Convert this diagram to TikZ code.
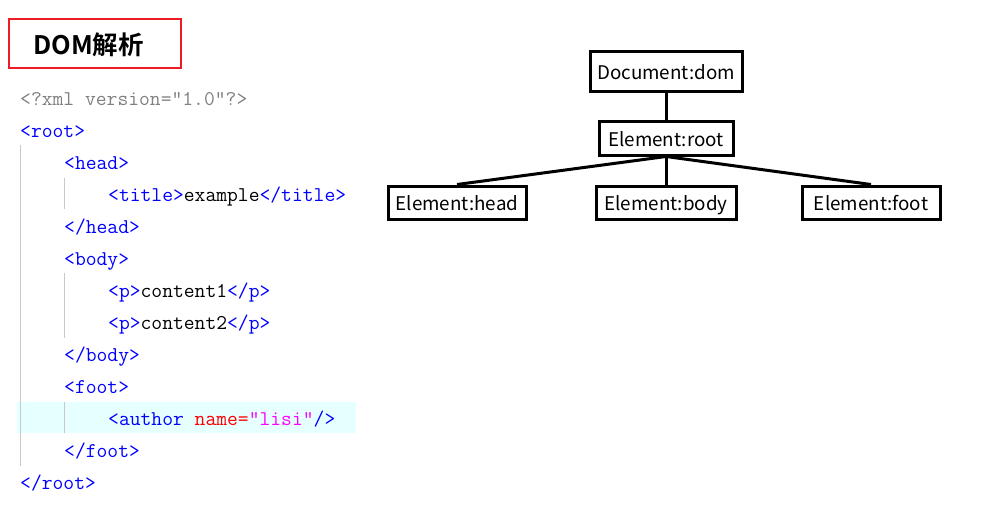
\documentclass[tikz,border=0pt]{standalone}
\usepackage{fontspec}
\usetikzlibrary{positioning}
\newfontfamily\cjkbold[BoldFont={* Bold}]{Noto Sans CJK SC}
\newfontfamily\treefont{Noto Sans CJK SC}
\definecolor{tagblue}{RGB}{0,0,255}
\definecolor{attrred}{RGB}{255,0,0}
\definecolor{valmag}{RGB}{255,0,255}
\definecolor{declgray}{RGB}{128,128,128}
\definecolor{guidegray}{RGB}{200,200,200}
\definecolor{hilite}{RGB}{230,255,255}
\definecolor{titlered}{RGB}{237,28,36}
\newcommand{\tg}[1]{\textcolor{tagblue}{#1}}
\newcommand{\at}[1]{\textcolor{attrred}{#1}}
\newcommand{\vl}[1]{\textcolor{valmag}{#1}}

\begin{document}
\begin{tikzpicture}[x=1pt,y=-1pt,
    code/.style={anchor=base west,inner sep=0pt,font=\ttfamily\fontsize{21}{21}\selectfont},
    elem/.style={draw,line width=3pt,inner sep=0pt,minimum height=34pt,
                 text height=20pt,text depth=4pt,font=\treefont\fontsize{18.8}{18.8}\selectfont},
    guide/.style={guidegray,line width=1pt}]
  \useasboundingbox (0,0) rectangle (995,514);

  \node[draw=titlered,line width=2.5pt,minimum width=172pt,minimum height=49pt,inner sep=0pt]
       (titlebox) at (95,43.5) {};
  \node[anchor=west,inner sep=0pt,font=\cjkbold\bfseries\fontsize{25.5}{25.5}\selectfont]
       (title) at (33,45) {DOM解析};

  \fill[hilite] (17,402) rectangle (356,433);
  \draw[guide] (20,145) -- (20,466);
  \draw[guide] (64,178) -- (64,209);
  \draw[guide] (64,273) -- (64,338);
  \draw[guide] (64,402) -- (64,433);

  \node[code] (l1)  at (20,105)  {\textcolor{declgray}{<?xml version="1.0"?>}};
  \node[code] (l2)  at (20,137)  {\tg{<root>}};
  \node[code] (l3)  at (64,169)  {\tg{<head>}};
  \node[code] (l4)  at (108,201) {\tg{<title>}example\tg{</title>}};
  \node[code] (l5)  at (64,233)  {\tg{</head>}};
  \node[code] (l6)  at (64,265)  {\tg{<body>}};
  \node[code] (l7)  at (108,297) {\tg{<p>}content1\tg{</p>}};
  \node[code] (l8)  at (108,329) {\tg{<p>}content2\tg{</p>}};
  \node[code] (l9)  at (64,361)  {\tg{</body>}};
  \node[code] (l10) at (64,393)  {\tg{<foot>}};
  \node[code] (l11) at (108,425) {\tg{<author} \at{name=}\vl{"lisi"}\tg{/>}};
  \node[code] (l12) at (64,457)  {\tg{</foot>}};
  \node[code] (l13) at (20,489)  {\tg{</root>}};

  \node[elem,minimum width=134pt]           (root) at (666,138)      {Element:root};
  \node[elem,minimum width=152pt,minimum height=40pt] (dom) [above=27pt of root] {Document:dom};
  \node[elem,minimum width=140pt,minimum height=33pt] (body) [below=28pt of root] {Element:body};
  \node[elem,minimum width=138pt,minimum height=33pt] (head) [left=67pt of body]   {Element:head};
  \node[elem,minimum width=138pt,minimum height=33pt] (foot) [right=63pt of body]  {Element:foot};

  \path[draw,line width=3pt]
        (dom)        edge (root)
        (root.south) edge (head.north)
        (root.south) edge (body.north)
        (root.south) edge (foot.north);
\end{tikzpicture}
\end{document}
